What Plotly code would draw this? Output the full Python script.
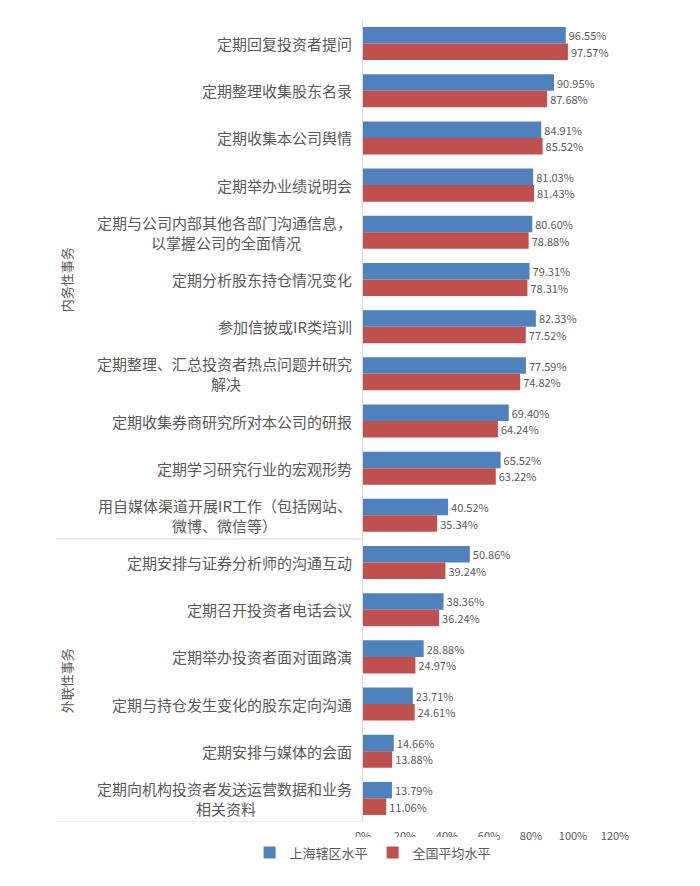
import plotly.graph_objects as go

categories = [
    "定期回复投资者提问",
    "定期整理收集股东名录",
    "定期收集本公司舆情",
    "定期举办业绩说明会",
    "定期与公司内部其他各部门沟通信息，\n以掌握公司的全面情况",
    "定期分析股东持仓情况变化",
    "参加信披或IR类培训",
    "定期整理、汇总投资者热点问题并研究\n解决",
    "定期收集券商研究所对本公司的研报",
    "定期学习研究行业的宏观形势",
    "用自媒体渠道开展IR工作（包括网站、\n微博、微信等）",
    "定期安排与证券分析师的沟通互动",
    "定期召开投资者电话会议",
    "定期举办投资者面对面路演",
    "定期与持仓发生变化的股东定向沟通",
    "定期安排与媒体的会面",
    "定期向机构投资者发送运营数据和业务\n相关资料",
]
shanghai = [96.55, 90.95, 84.91, 81.03, 80.60, 79.31, 82.33, 77.59, 69.40, 65.52,
            40.52, 50.86, 38.36, 28.88, 23.71, 14.66, 13.79]
national = [97.57, 87.68, 85.52, 81.43, 78.88, 78.31, 77.52, 74.82, 64.24, 63.22,
            35.34, 39.24, 36.24, 24.97, 24.61, 13.88, 11.06]
series_names = ["上海辖区水平", "全国平均水平"]
groups = ["内务性事务", "外联性事务"]
group_sizes = [11, 6]
x_ticks = [0, 20, 40, 60, 80, 100, 120]

FONT = "Noto Sans CJK SC, Noto Sans, sans-serif"
GRAY = "#595959"
CAT_SIZE = 15
ids = list(range(len(categories)))


def text_width(s, size):
    w = 0.0
    for ch in s:
        w += size * (0.58 if ord(ch) < 128 else 1.0)
    return w


fig = go.Figure()
for name, vals, color in [(series_names[0], shanghai, "#4F81BD"),
                          (series_names[1], national, "#C0504D")]:
    fig.add_trace(go.Bar(
        y=ids, x=vals, name=name, orientation="h",
        marker=dict(color=color, line=dict(width=0)),
        text=[f"{v:.2f}%" for v in vals], textposition="outside",
        textfont=dict(size=11, color=GRAY, family=FONT),
        cliponaxis=False,
    ))

annotations = []
for i, c in enumerate(categories):
    lines = c.split("\n")
    if len(lines) == 1:
        annotations.append(dict(
            x=0, xref="x", y=i, yref="y", text=c, showarrow=False,
            xanchor="right", yanchor="middle", xshift=-10, borderpad=0,
            font=dict(size=CAT_SIZE, color=GRAY, family=FONT)))
    else:
        w1 = text_width(lines[0], CAT_SIZE)
        annotations.append(dict(
            x=0, xref="x", y=i, yref="y", text=lines[0], showarrow=False,
            xanchor="right", yanchor="middle", xshift=-10, yshift=10, borderpad=0,
            font=dict(size=CAT_SIZE, color=GRAY, family=FONT)))
        annotations.append(dict(
            x=0, xref="x", y=i, yref="y", text=lines[1], showarrow=False,
            xanchor="center", yanchor="middle", xshift=-10 - w1 / 2, yshift=-10,
            borderpad=0,
            font=dict(size=CAT_SIZE, color=GRAY, family=FONT)))

# group labels and separators
start = 0
for g, n in zip(groups, group_sizes):
    mid = start + (n - 1) / 2
    annotations.append(dict(
        x=-1.175, xref="paper", y=mid, yref="y", text=g, showarrow=False,
        textangle=-90, xanchor="center", yanchor="middle",
        font=dict(size=13, color=GRAY, family=FONT)))
    start += n

shapes = []
start = 0
for n in group_sizes:
    start += n
    shapes.append(dict(type="line", xref="paper", yref="y",
                       x0=-1.22, x1=0, y0=start - 0.5, y1=start - 0.5,
                       line=dict(color="#D9D9D9", width=1)))

fig.update_layout(
    width=700, height=886,
    margin=dict(l=363, r=85, t=20, b=64),
    paper_bgcolor="white", plot_bgcolor="white",
    barmode="group", bargap=0.3, bargroupgap=0,
    showlegend=True,
    legend=dict(orientation="h", x=-0.45, xanchor="left", y=-0.038, yanchor="middle",
                font=dict(size=13, color=GRAY, family=FONT), itemwidth=30,
                traceorder="normal", tracegroupgap=0),
    xaxis=dict(range=[0, 120], tickmode="array", tickvals=x_ticks,
               ticktext=[f"{v}%" for v in x_ticks],
               showgrid=False, zeroline=False, showline=False,
               tickfont=dict(size=11, color=GRAY, family=FONT),
               ticks="outside", ticklen=4, tickcolor="rgba(0,0,0,0)"),
    yaxis=dict(range=[len(categories) - 0.5, -0.5], showticklabels=False,
               showgrid=False, zeroline=False, showline=True,
               linecolor="#D9D9D9", linewidth=1, ticks="",
               tickvals=ids),
    annotations=annotations,
    shapes=shapes,
    font=dict(family=FONT, color=GRAY),
)

fig.write_html("out.html")
